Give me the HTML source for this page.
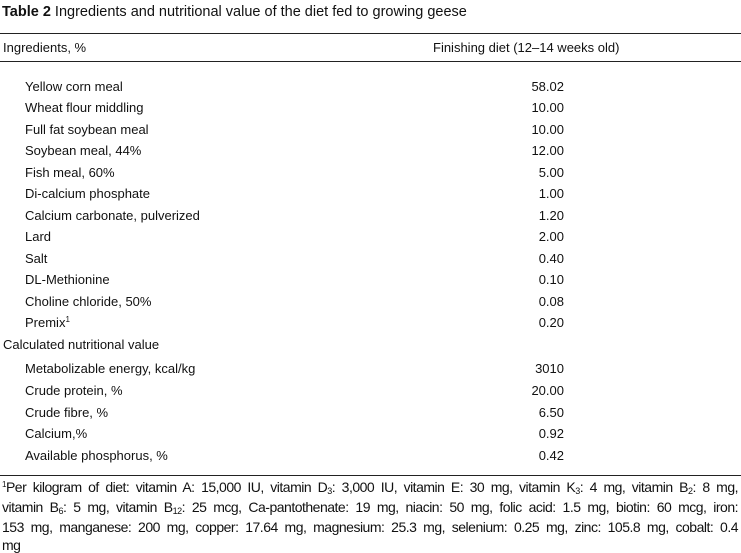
<!DOCTYPE html>
<html><head><meta charset="utf-8"><style>
body{margin:0;width:741px;height:550px;background:#fff;font-family:"Liberation Sans",Arial,sans-serif;color:#111;position:relative;overflow:hidden}
.t{position:absolute;white-space:nowrap;font-size:13px;line-height:15px}
.v{position:absolute;left:500px;width:64px;text-align:right;font-size:13px;line-height:15px}
.hr{position:absolute;left:0;width:741px;height:1px;background:#222}
.fl{position:absolute;left:2px;width:736px;font-size:14px;line-height:16px;white-space:nowrap;text-align:justify;text-align-last:justify;letter-spacing:-0.5px}
.fl.last{text-align-last:left}
sub{font-size:9px;vertical-align:-2px;line-height:0}
sup{font-size:8px;vertical-align:5px;line-height:0}
</style></head><body>
<div class="t" style="left:2px;top:4px;font-size:14.5px;line-height:17px"><b>Table 2</b> Ingredients and nutritional value of the diet fed to growing geese</div>
<div class="hr" style="top:33px"></div>
<div class="t" style="left:3px;top:40px">Ingredients, %</div>
<div class="t" style="left:433px;top:40px">Finishing diet (12–14 weeks old)</div>
<div class="hr" style="top:61px"></div>

<div class="t" style="left:25px;top:79px">Yellow corn meal</div><div class="v" style="top:79px">58.02</div>
<div class="t" style="left:25px;top:100px">Wheat flour middling</div><div class="v" style="top:100px">10.00</div>
<div class="t" style="left:25px;top:122px">Full fat soybean meal</div><div class="v" style="top:122px">10.00</div>
<div class="t" style="left:25px;top:143px">Soybean meal, 44%</div><div class="v" style="top:143px">12.00</div>
<div class="t" style="left:25px;top:165px">Fish meal, 60%</div><div class="v" style="top:165px">5.00</div>
<div class="t" style="left:25px;top:186px">Di-calcium phosphate</div><div class="v" style="top:186px">1.00</div>
<div class="t" style="left:25px;top:208px">Calcium carbonate, pulverized</div><div class="v" style="top:208px">1.20</div>
<div class="t" style="left:25px;top:229px">Lard</div><div class="v" style="top:229px">2.00</div>
<div class="t" style="left:25px;top:251px">Salt</div><div class="v" style="top:251px">0.40</div>
<div class="t" style="left:25px;top:272px">DL-Methionine</div><div class="v" style="top:272px">0.10</div>
<div class="t" style="left:25px;top:294px">Choline chloride, 50%</div><div class="v" style="top:294px">0.08</div>
<div class="t" style="left:25px;top:315px">Premix<sup>1</sup></div><div class="v" style="top:315px">0.20</div>
<div class="t" style="left:3px;top:337px">Calculated nutritional value</div>
<div class="t" style="left:25px;top:361px">Metabolizable energy, kcal/kg</div><div class="v" style="top:361px">3010</div>
<div class="t" style="left:25px;top:383px">Crude protein, %</div><div class="v" style="top:383px">20.00</div>
<div class="t" style="left:25px;top:405px">Crude fibre, %</div><div class="v" style="top:405px">6.50</div>
<div class="t" style="left:25px;top:426px">Calcium,%</div><div class="v" style="top:426px">0.92</div>
<div class="t" style="left:25px;top:448px">Available phosphorus, %</div><div class="v" style="top:448px">0.42</div>
<div class="hr" style="top:475px"></div>
<div class="fl" style="top:479px"><sup>1</sup>Per kilogram of diet: vitamin A: 15,000 IU, vitamin D<sub>3</sub>: 3,000 IU, vitamin E: 30 mg, vitamin K<sub>3</sub>: 4 mg, vitamin B<sub>2</sub>: 8 mg,</div>
<div class="fl" style="top:499px">vitamin B<sub>6</sub>: 5 mg, vitamin B<sub>12</sub>: 25 mcg, Ca-pantothenate: 19 mg, niacin: 50 mg, folic acid: 1.5 mg, biotin: 60 mcg, iron:</div>
<div class="fl" style="top:519px">153 mg, manganese: 200 mg, copper: 17.64 mg, magnesium: 25.3 mg, selenium: 0.25 mg, zinc: 105.8 mg, cobalt: 0.4</div>
<div class="fl last" style="top:537px">mg</div>
</body></html>
